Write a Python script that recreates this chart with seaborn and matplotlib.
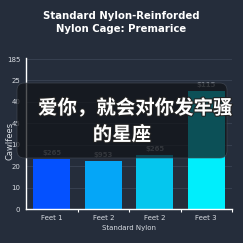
import matplotlib
matplotlib.use("Agg")
import matplotlib.pyplot as plt
import seaborn as sns
import pandas as pd
from matplotlib.patches import FancyBboxPatch
import matplotlib.patheffects as pe

categories = ["Feet 1", "Feet 2", "Feet 2 ", "Feet 3"]
tick_names = ["Feet 1", "Feet 2", "Feet 2", "Feet 3"]
values = [23.3, 22.4, 25.2, 55.0]
value_labels = ["$265", "$953", "$265", "$115"]
bar_colors = ["#0451ff", "#05a6f7", "#05c6ee", "#00eefc"]
y_ticks = [0, 10, 20, 30, 40, 50, 60, 70]
y_tick_labels = ["0", "10", "20", "10", "45", "40", "25", "185"]
title = "Standard Nylon-Reinforded\nNylon Cage: Premarice"
x_label = "Standard Nylon"
y_label = "Cawlfees"
overlay_line1 = "爱你，就会对你发牢骚"
overlay_line2 = "的星座"

BG = "#252d3b"
sns.set_theme(style="dark")
plt.rcParams['font.family'] = ['DejaVu Sans']

fig = plt.figure(figsize=(2.43, 2.43), dpi=100, facecolor=BG)
ax = fig.add_axes([26/243, 34/243, 206/243, 151/243])
ax.set_facecolor(BG)

df = pd.DataFrame({"cat": categories, "val": values})
sns.barplot(data=df, x="cat", y="val", hue="cat", palette=bar_colors,
            width=0.72, legend=False, ax=ax, saturation=1, linewidth=0)

ax.set_ylim(0, 70.5)
ax.set_xlim(-0.5, 3.5)
ax.set_yticks(y_ticks)
ax.set_yticklabels(y_tick_labels)
ax.set_xticks(range(4))
ax.set_xticklabels(tick_names)
ax.set_xticks([0.5, 1.5, 2.5, 3.5], minor=True)
ax.grid(axis="y", color="#3a4354", linewidth=0.6)
ax.set_axisbelow(True)
for s in ["top", "right"]:
    ax.spines[s].set_visible(False)
for s in ["left", "bottom"]:
    ax.spines[s].set_color("white")
    ax.spines[s].set_linewidth(1.0)
ax.tick_params(axis="both", colors="#d8dce2", labelsize=5, length=2, width=0.6, pad=2)
ax.tick_params(axis="x", which="minor", colors="white", length=2.5, width=0.8, bottom=True)
ax.set_xlabel(x_label, color="#d8dce2", fontsize=5, labelpad=3)
ax.set_ylabel(y_label, color="#d8dce2", fontsize=6)
ax.yaxis.set_label_coords(-0.055, 0.45)

for i, (v, lab) in enumerate(zip(values, value_labels)):
    ax.text(i, v + 1.5, lab, ha="center", va="bottom", fontsize=5, color="#8a909a",
            fontweight="bold")

fig.text(0.5, 0.955, title, ha="center", va="top", color="white", fontsize=7.3,
         fontweight="bold", linespacing=1.4)

box = FancyBboxPatch((17/243, (243-158)/243), 210/243, 75/243,
                     boxstyle="round,pad=0,rounding_size=0.03",
                     transform=fig.transFigure, facecolor="#111317", alpha=0.72,
                     edgecolor="#444a55", linewidth=0.6, zorder=5)
fig.patches.append(box)
cjk = ["Noto Sans CJK SC", "DejaVu Sans"]
fx = [pe.withStroke(linewidth=1.5, foreground="#222222")]
fig.text(135.5/243, (243-108)/243, overlay_line1, ha="center", va="center", color="white",
         fontsize=14, fontweight="bold", family=cjk, zorder=6, path_effects=fx)
fig.text(122/243, (243-135)/243, overlay_line2, ha="center", va="center", color="white",
         fontsize=14, fontweight="bold", family=cjk, zorder=6, path_effects=fx)

fig.savefig("out.png", dpi=100, facecolor=BG)
